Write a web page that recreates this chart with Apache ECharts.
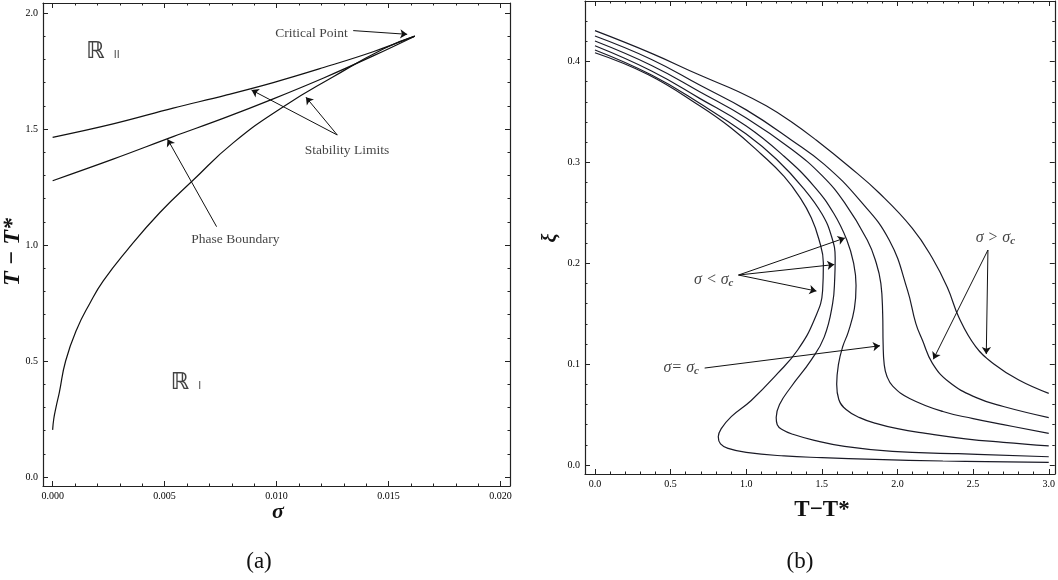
<!DOCTYPE html>
<html><head><meta charset="utf-8">
<script src="https://cdn.jsdelivr.net/npm/echarts@6/dist/echarts.min.js"></script>
<style>html,body{margin:0;padding:0;background:#fff}#c{width:1058px;height:580px}</style>
</head><body><div id="c"></div>
<script>
// ================= Panel (a): sigma vs T - T* =================
const sigmaUpper = [0, 0.0027, 0.00538, 0.0077, 0.00985, 0.0121, 0.01431, 0.01617];
const tUpper     = [1.464, 1.522, 1.590, 1.645, 1.700, 1.765, 1.833, 1.900];
const sigmaMiddle = [0, 0.0027, 0.00538, 0.0077, 0.00985, 0.0121, 0.01431, 0.01617];
const tMiddle     = [1.277, 1.370, 1.467, 1.549, 1.630, 1.720, 1.815, 1.900];
const sigmaPhase = [0, 0.00005, 0.00015, 0.0003, 0.00058, 0.00107, 0.00167, 0.00226, 0.0033, 0.00479, 0.00628, 0.00806, 0.0103, 0.01253, 0.01476, 0.01617];
const tPhase     = [0.203, 0.25, 0.30, 0.365, 0.50, 0.635, 0.75, 0.845, 0.975, 1.14, 1.28, 1.44, 1.596, 1.725, 1.845, 1.900];
const xTicksA = [0, 0.005, 0.010, 0.015, 0.020];
const yTicksA = [0.0, 0.5, 1.0, 1.5, 2.0];

// ================= Panel (b): T - T* vs xi =================
const tA  = [0, 0.374, 0.692, 0.95, 1.132, 1.30, 1.462, 1.681, 1.879, 2.097, 2.231, 2.33, 2.407, 2.517, 2.637, 2.802, 3.0];
const xiA = [0.4305, 0.408, 0.3865, 0.370, 0.356, 0.340, 0.3221, 0.2956, 0.2696, 0.2349, 0.205, 0.176, 0.146, 0.1174, 0.1001, 0.0842, 0.071];
const tB  = [0, 0.374, 0.692, 1.0, 1.3, 1.516, 1.747, 1.945, 2.066, 2.121, 2.165, 2.231, 2.341, 2.517, 2.7, 3.0];
const xiB = [0.4252, 0.402, 0.3766, 0.352, 0.322, 0.298, 0.263, 0.223, 0.1734, 0.1404, 0.1236, 0.1008, 0.0822, 0.067, 0.058, 0.0470];
const tC  = [0, 0.374, 0.692, 1.0, 1.3, 1.5, 1.65, 1.8, 1.86, 1.89, 1.902, 1.905, 1.912, 1.93, 1.97, 2.08, 2.3, 2.5, 2.7, 3.0];
const xiC = [0.4202, 0.396, 0.370, 0.344, 0.313, 0.287, 0.26, 0.223, 0.2, 0.18, 0.15, 0.12, 0.1, 0.088, 0.078, 0.066, 0.053, 0.046, 0.040, 0.0314];
const tD  = [0, 0.374, 0.692, 1.0, 1.25, 1.45, 1.58, 1.665, 1.71, 1.726, 1.715, 1.675, 1.637, 1.61, 1.598, 1.612, 1.66, 1.75, 1.857, 2.0, 2.187, 2.45, 2.7, 3.0];
const xiD = [0.4155, 0.3905, 0.3634, 0.336, 0.306, 0.276, 0.249, 0.223, 0.2, 0.178, 0.155, 0.132, 0.117, 0.1, 0.08, 0.065, 0.055, 0.047, 0.0413, 0.036, 0.0314, 0.026, 0.0225, 0.019];
const tE  = [0, 0.374, 0.692, 1.0, 1.2, 1.38, 1.5, 1.565, 1.588, 1.585, 1.571, 1.516, 1.429, 1.297, 1.22, 1.198, 1.205, 1.24, 1.308, 1.45, 1.65, 1.967, 2.4, 3.0];
const xiE = [0.4113, 0.3865, 0.3585, 0.328, 0.303, 0.274, 0.249, 0.226, 0.205, 0.185, 0.16, 0.127, 0.104, 0.0776, 0.06, 0.047, 0.04, 0.035, 0.0305, 0.0245, 0.0185, 0.0135, 0.0112, 0.0082];
const tF  = [0, 0.35, 0.692, 0.9, 1.1, 1.25, 1.36, 1.43, 1.48, 1.51, 1.505, 1.45, 1.34, 1.209, 1.033, 0.901, 0.835, 0.815, 0.83, 0.88, 1.0, 1.25, 1.5, 1.85, 2.3, 3.0];
const xiF = [0.4086, 0.387, 0.356, 0.334, 0.308, 0.286, 0.264, 0.245, 0.224, 0.200, 0.173, 0.144, 0.114, 0.091, 0.064, 0.048, 0.036, 0.028, 0.021, 0.0165, 0.0125, 0.009, 0.0073, 0.0056, 0.004, 0.0027];
const xTicksB = [0.0, 0.5, 1.0, 1.5, 2.0, 2.5, 3.0];
const yTicksB = [0.0, 0.1, 0.2, 0.3, 0.4];

// annotations (data coordinates)
const notesA = [
  {text: 'Critical Point', at: [0.01156, 1.912]},
  {text: 'Stability Limits', at: [0.01314, 1.406]},
  {text: 'Phase Boundary', at: [0.00816, 1.022]},
  {text: '{r|ℝ}{s|II}', at: [0.00225, 1.832]},
  {text: '{r|ℝ}{s|I}', at: [0.00595, 0.405]}
];
const arrowsA = [
  [0.01342, 1.924, 0.01583, 1.908],
  [0.01271, 1.474, 0.00888, 1.668],
  [0.01271, 1.474, 0.01131, 1.637],
  [0.00732, 1.079, 0.00513, 1.456]
];
const notesB = [
  {text: '{a|σ > σ}{b|c}', at: [2.647, 0.225]},
  {text: '{a|σ < σ}{b|c}', at: [0.785, 0.1834]},
  {text: '{a|σ= σ}{b|c}', at: [0.570, 0.0961]}
];
const arrowsB = [
  [2.598, 0.2131, 2.237, 0.1048],
  [2.598, 0.2131, 2.587, 0.110],
  [0.949, 0.1883, 1.652, 0.225],
  [0.949, 0.1883, 1.582, 0.1987],
  [0.949, 0.1883, 1.464, 0.1724],
  [0.725, 0.0961, 1.884, 0.1182]
];

// ================= helpers =================
const zip = (xs, ys) => xs.map((x, i) => [x, ys[i]]);
function minorTicks(lo, hi, step, majors) {
  const out = [];
  const n = Math.round((hi - lo) / step);
  for (let i = 0; i <= n; i++) {
    const v = +(lo + i * step).toFixed(6);
    if (!majors.some(m => Math.abs(m - v) < step / 10)) out.push(v);
  }
  return out;
}
const AX = '#222';
function axesFor(kind, gi, min, max, majors, minors, fmt) {
  const posA = kind === 'x' ? 'bottom' : 'left';
  const posB = kind === 'x' ? 'top' : 'right';
  const mk = (pos, vals, len, line, labels) => ({
    type: 'value', gridIndex: gi, min: min, max: max, position: pos,
    axisLine: {show: line, onZero: false, lineStyle: {color: AX, width: 1.2}},
    axisTick: {show: true, inside: true, length: len, customValues: vals, lineStyle: {color: AX, width: 1}},
    axisLabel: {show: labels, customValues: vals, formatter: fmt, fontFamily: 'Liberation Serif', fontSize: 10, color: '#000', margin: 5},
    splitLine: {show: false}, minorTick: {show: false}
  });
  return [mk(posA, majors, 5, true, true), mk(posA, minors, 2.5, false, false),
          mk(posB, majors, 5, true, false), mk(posB, minors, 2.5, false, false)];
}

const xA = axesFor('x', 0, -0.00043, 0.02042, xTicksA, minorTicks(0, 0.02, 0.001, xTicksA), v => v.toFixed(3));
const yA = axesFor('y', 0, -0.0388, 2.043, yTicksA, minorTicks(0, 2.0, 0.1, yTicksA), v => v.toFixed(1));
const xB = axesFor('x', 1, -0.066, 3.04, xTicksB, minorTicks(0, 3.0, 0.1, xTicksB), v => v.toFixed(1));
const yB = axesFor('y', 1, -0.0089, 0.4599, yTicksB, minorTicks(0, 0.44, 0.02, yTicksB), v => v.toFixed(1));

const lineStyleA = {color: '#111', width: 1.2};
const lineStyleB = {color: '#1a1a26', width: 1.2};
function curve(data, xi, yi, ls, sm) {
  return {type: 'line', xAxisIndex: xi, yAxisIndex: yi, data: data, showSymbol: false, symbol: 'none',
    smooth: sm, lineStyle: ls, silent: true, animation: false, z: 3};
}
const serifRich = {
  r: {fontFamily: 'DejaVu Sans', fontWeight: 'bold', fontSize: 23, color: '#111', padding: [0, 9, 0, 0]},
  s: {fontFamily: 'DejaVu Sans', fontSize: 10, color: '#111', verticalAlign: 'bottom', padding: [0, 0, 3, 0]},
  a: {fontFamily: 'Liberation Serif', fontStyle: 'italic', fontSize: 16, color: '#111'},
  b: {fontFamily: 'Liberation Serif', fontStyle: 'italic', fontWeight: 'bold', fontSize: 11, color: '#111', verticalAlign: 'bottom', padding: [6, 0, 0, 0]}
};
function notesSeries(notes, arrows, xi, yi) {
  return {
    type: 'scatter', xAxisIndex: xi, yAxisIndex: yi, symbolSize: 0, silent: true, animation: false, z: 5,
    data: notes.map(n => ({value: n.at, label: {show: true, position: 'inside', formatter: n.text,
      fontFamily: 'Liberation Serif', fontSize: 13.5, color: '#111', rich: serifRich}})),
    markLine: {silent: true, animation: false, symbol: ['none', 'arrow'], symbolSize: 7, precision: 6,
      label: {show: false}, lineStyle: {color: '#111', width: 1, type: 'solid'},
      emphasis: {disabled: true},
      data: arrows.map(a => [{coord: [a[0], a[1]]}, {coord: [a[2], a[3]]}])}
  };
}

const chart = echarts.init(document.getElementById('c'), null, {renderer: 'canvas'});
chart.setOption({
  animation: false,
  backgroundColor: '#fff',
  grid: [
    {left: 43, top: 3, width: 467, height: 483},
    {left: 585, top: 1, width: 471, height: 473}
  ],
  xAxis: xA.concat(xB),
  yAxis: yA.concat(yB),
  series: [
    curve(zip(sigmaUpper, tUpper), 0, 0, lineStyleA, 0.4),
    curve(zip(sigmaMiddle, tMiddle), 0, 0, lineStyleA, 0.4),
    curve(zip(sigmaPhase, tPhase), 0, 0, lineStyleA, 0.5),
    notesSeries(notesA, arrowsA, 0, 0),
    curve(zip(tA, xiA), 4, 4, lineStyleB, 0.45),
    curve(zip(tB, xiB), 4, 4, lineStyleB, 0.45),
    curve(zip(tC, xiC), 4, 4, lineStyleB, 0.45),
    curve(zip(tD, xiD), 4, 4, lineStyleB, 0.45),
    curve(zip(tE, xiE), 4, 4, lineStyleB, 0.45),
    curve(zip(tF, xiF), 4, 4, lineStyleB, 0.45),
    notesSeries(notesB, arrowsB, 4, 4)
  ],
  graphic: [
    {type: 'text', x: 13, y: 252, rotation: Math.PI / 2,
     style: {text: 'T − T*', fontFamily: 'Liberation Serif', fontStyle: 'italic', fontWeight: 'bold', fontSize: 24, fill: '#111', align: 'center', verticalAlign: 'middle', textAlign: 'center', textVerticalAlign: 'middle'}},
    {type: 'text', x: 278, y: 512,
     style: {text: 'σ', fontFamily: 'Liberation Serif', fontStyle: 'italic', fontWeight: 'bold', fontSize: 22, fill: '#111', align: 'center', verticalAlign: 'middle', textAlign: 'center', textVerticalAlign: 'middle'}},
    {type: 'text', x: 259, y: 562,
     style: {text: '(a)', fontFamily: 'Liberation Serif', fontSize: 23, fill: '#111', align: 'center', verticalAlign: 'middle', textAlign: 'center', textVerticalAlign: 'middle'}},
    {type: 'text', x: 551, y: 238, rotation: Math.PI / 2,
     style: {text: 'ξ', fontFamily: 'Liberation Serif', fontStyle: 'italic', fontWeight: 'bold', fontSize: 20, fill: '#111', align: 'center', verticalAlign: 'middle', textAlign: 'center', textVerticalAlign: 'middle'}},
    {type: 'text', x: 822, y: 510,
     style: {text: 'T−T*', fontFamily: 'Liberation Serif', fontWeight: 'bold', fontSize: 23, fill: '#111', align: 'center', verticalAlign: 'middle', textAlign: 'center', textVerticalAlign: 'middle'}},
    {type: 'text', x: 800, y: 562,
     style: {text: '(b)', fontFamily: 'Liberation Serif', fontSize: 23, fill: '#111', align: 'center', verticalAlign: 'middle', textAlign: 'center', textVerticalAlign: 'middle'}}
  ]
});
</script>
</body></html>
